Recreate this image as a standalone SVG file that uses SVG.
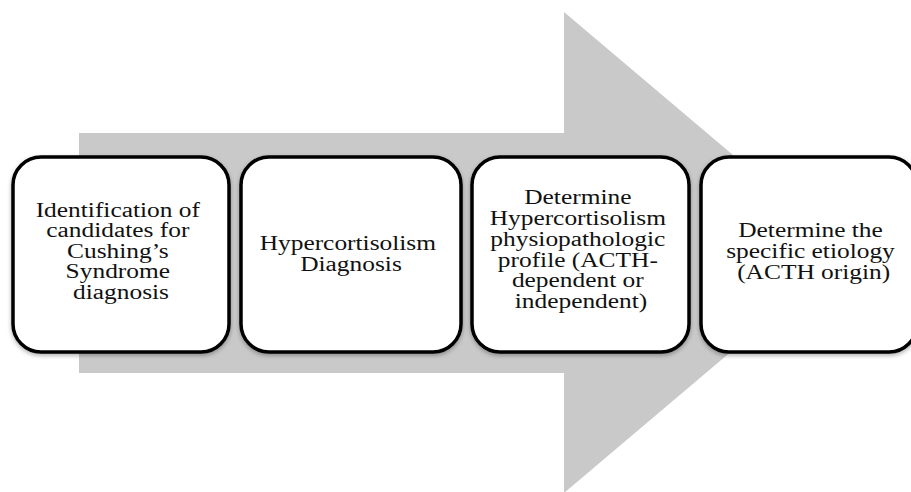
<svg xmlns="http://www.w3.org/2000/svg" width="911" height="492" viewBox="0 0 911 492">
  <defs>
    <filter id="shadow" x="-10%" y="-10%" width="120%" height="125%">
      <feDropShadow dx="0" dy="2" stdDeviation="2" flood-color="#000" flood-opacity="0.3"/>
    </filter>
  </defs>
  <style>
    .box { fill: #ffffff; stroke: #000000; stroke-width: 3.5; filter: url(#shadow); }
    .lbl { font-family: "Liberation Serif", "Times New Roman", serif; font-size: 20px; fill: #111111; text-anchor: middle; }
    .arrow { fill: #c9c9c9; }
  </style>
  <rect width="911" height="492" fill="#ffffff"/>
  <g id="connectors">
    <polygon class="arrow" points="79,133 564,133 564,12 848,252.5 564,493 564,373 79,373"/>
  </g>
  <g id="node1">
    <rect class="box" x="13" y="157" width="216" height="195" rx="28" ry="28"/>
    <text class="lbl" transform="translate(121,0) scale(1.27,1)">
      <tspan x="0" y="217">Identification of</tspan>
      <tspan x="0" y="237.5">candidates for</tspan>
      <tspan x="0" y="258">Cushing’s</tspan>
      <tspan x="0" y="278.5">Syndrome</tspan>
      <tspan x="0" y="299.5">diagnosis</tspan>
    </text>
  </g>
  <g id="node2">
    <rect class="box" x="241" y="157" width="220" height="195" rx="28" ry="28"/>
    <text class="lbl" transform="translate(351,0) scale(1.27,1)">
      <tspan x="0" y="250">Hypercortisolism</tspan>
      <tspan x="0" y="271">Diagnosis</tspan>
    </text>
  </g>
  <g id="node3">
    <rect class="box" x="472" y="157" width="217" height="195" rx="28" ry="28"/>
    <text class="lbl" transform="translate(581,0) scale(1.27,1)">
      <tspan x="0" y="204">Determine</tspan>
      <tspan x="0" y="225">Hypercortisolism</tspan>
      <tspan x="0" y="246">physiopathologic</tspan>
      <tspan x="0" y="266.7">profile (ACTH-</tspan>
      <tspan x="0" y="287.3">dependent or</tspan>
      <tspan x="0" y="308.3">independent)</tspan>
    </text>
  </g>
  <g id="node4">
    <rect class="box" x="701" y="157" width="216" height="195" rx="28" ry="28"/>
    <text class="lbl" transform="translate(813.7,0) scale(1.27,1)">
      <tspan x="0" y="237.3">Determine the</tspan>
      <tspan x="0" y="258.3">specific etiology</tspan>
      <tspan x="0" y="279.3">(ACTH origin)</tspan>
    </text>
  </g>
</svg>
